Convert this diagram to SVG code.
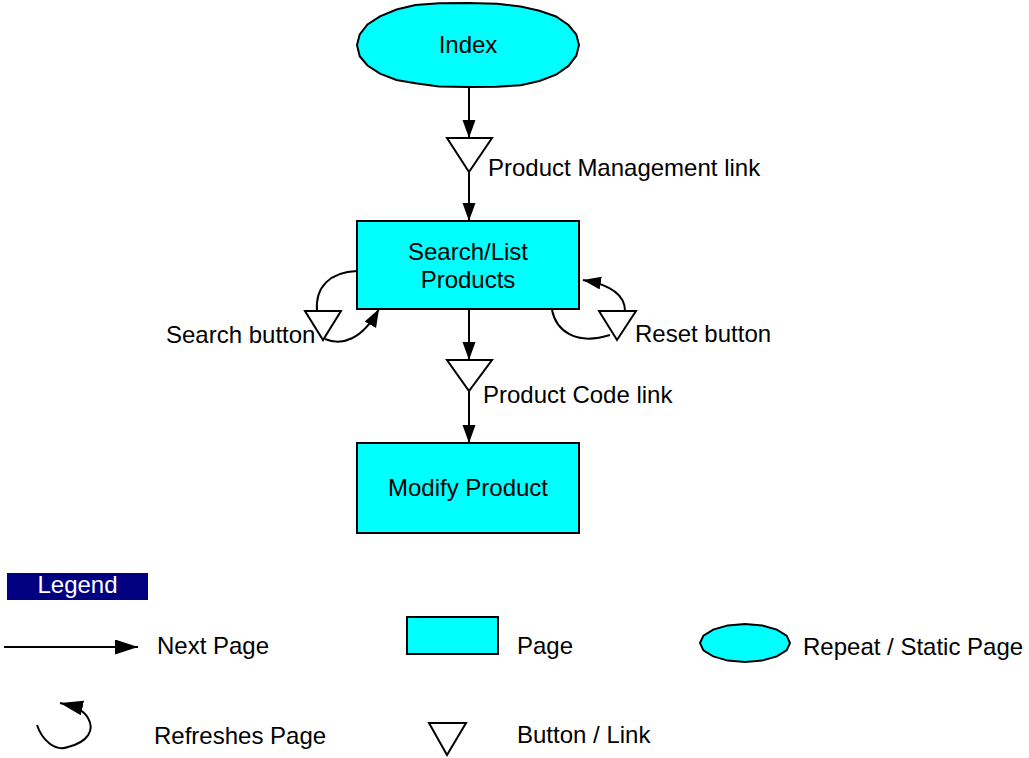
<svg xmlns="http://www.w3.org/2000/svg" width="1029" height="758" viewBox="0 0 1029 758">
<style>
text{font-family:"Liberation Sans",Arial,sans-serif;font-size:24px;fill:#000}
.c{text-anchor:middle}
.page{fill:#00FFFF;stroke:#000;stroke-width:2}
.btn{fill:#fff;stroke:#000;stroke-width:2;stroke-linejoin:miter}
.ln{fill:none;stroke:#000;stroke-width:2}
</style>
<defs>
<marker id="ah" markerUnits="userSpaceOnUse" markerWidth="19" markerHeight="14" refX="18" refY="6.5" orient="auto">
<path d="M0,0 L18,6.5 L0,13 z" fill="#000"/>
</marker>
<marker id="ahL" markerUnits="userSpaceOnUse" markerWidth="24" markerHeight="16" refX="23" refY="7.5" orient="auto">
<path d="M0,0 L23,7.5 L0,15 z" fill="#000"/>
</marker>
</defs>
<g id="connectors">
<line class="ln" x1="469" y1="87" x2="469" y2="138" marker-end="url(#ah)"/>
<line class="ln" x1="469" y1="172" x2="469" y2="221" marker-end="url(#ah)"/>
<line class="ln" x1="469" y1="309" x2="469" y2="360" marker-end="url(#ah)"/>
<line class="ln" x1="469" y1="391" x2="469" y2="443" marker-end="url(#ah)"/>
<path class="ln" d="M357,271 C330,272 315,287 317,311"/>
<path class="ln" d="M325,339 C342,346 362,340 379,309" marker-end="url(#ah)"/>
<path class="ln" d="M552,310 C556,330 575,346 610,335"/>
<path class="ln" d="M625,311 C625,295 612,285 583,280" marker-end="url(#ah)"/>
</g>
<g id="index">
<polygon class="page" points="579,45 576.3,55.7 568.5,65.9 556,74.7 539.5,81 520.6,85.2 497,86.7 468,87 439,86.4 415.4,83.3 396.5,80 380,73.6 367.5,65.5 359.7,56.2 357,45 359.7,34.5 367.5,24.5 380,16.3 396.5,9.5 415.4,5 439,3.3 468,3 497,3.8 520.6,6.6 539.5,10.8 556,16.5 568.5,25 576.3,34.5"/>
<text class="c" x="468" y="53">Index</text>
</g>
<g id="pm-link">
<polygon class="btn" points="447,138 492,138 469,172"/>
<text x="488" y="176">Product Management link</text>
</g>
<g id="search-list">
<rect class="page" x="357" y="221" width="222" height="88"/>
<text class="c" x="468" y="260">Search/List</text>
<text class="c" x="468" y="288">Products</text>
</g>
<g id="search-button">
<polygon class="btn" points="305,311 341,311 323,340"/>
<text x="166" y="343">Search button</text>
</g>
<g id="reset-button">
<polygon class="btn" points="599,311 636,311 617,340"/>
<text x="635" y="342">Reset button</text>
</g>
<g id="pc-link">
<polygon class="btn" points="447,360 492,360 469,391"/>
<text x="483" y="403">Product Code link</text>
</g>
<g id="modify-product">
<rect class="page" x="357" y="443" width="222" height="90"/>
<text class="c" x="468" y="496">Modify Product</text>
</g>
<g id="legend">
<rect x="7" y="573" width="141" height="27" fill="#000080"/>
<text class="c" x="77.5" y="593" style="fill:#fff">Legend</text>
<line class="ln" x1="4" y1="647" x2="138" y2="647" marker-end="url(#ahL)"/>
<text x="157" y="654">Next Page</text>
<rect class="page" x="407" y="617" width="91" height="37"/>
<text x="517" y="654">Page</text>
<polygon class="page" points="790,643 786.6,650.3 776.8,656.4 762.2,660.6 745,662 727.8,660.6 713.2,656.4 703.4,650.3 700,643 703.4,635.7 713.2,629.6 727.8,625.4 745,624 762.2,625.4 776.8,629.6 786.6,635.7"/>
<text x="803" y="655">Repeat / Static Page</text>
<path class="ln" d="M37,725 C42,740 55,752 68,747 C88,742 95,730 88,718 C85,712 78,707 60,703" marker-end="url(#ahL)"/>
<text x="154" y="744">Refreshes Page</text>
<polygon class="btn" points="429,723 466,723 447,755"/>
<text x="517" y="743">Button / Link</text>
</g>
</svg>
